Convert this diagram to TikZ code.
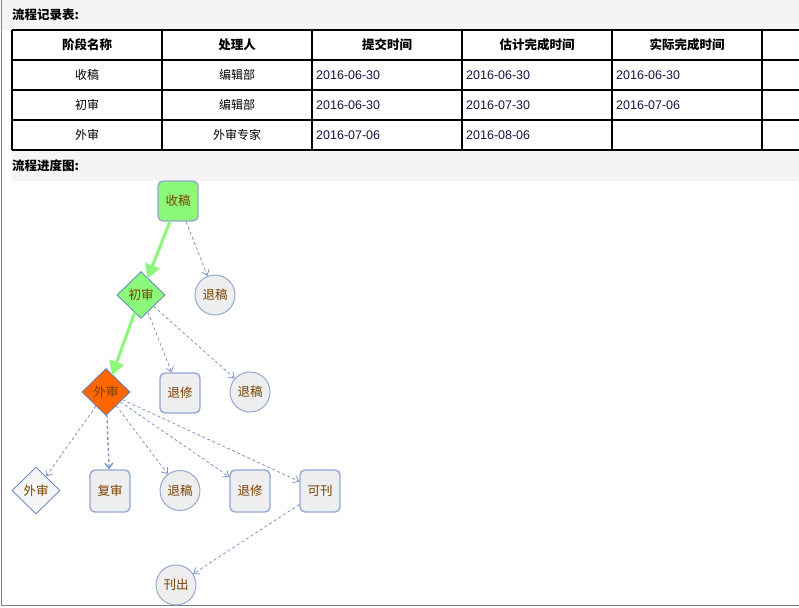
\documentclass[tikz,border=0pt]{standalone}
\usepackage{fontspec}
\setmainfont{Liberation Sans}
\newfontfamily\cjk{Noto Sans CJK SC}
\usetikzlibrary{shapes.geometric,arrows.meta}
\definecolor{bggray}{HTML}{F4F4F4}
\definecolor{framegray}{HTML}{808080}
\definecolor{datecol}{HTML}{1E1040}
\definecolor{nodetext}{HTML}{7A4000}
\definecolor{nodeborder}{HTML}{94A8D4}
\definecolor{diaborder}{HTML}{5A78C0}
\definecolor{nodefill}{HTML}{EEEEEE}
\definecolor{donegreen}{HTML}{8CF87A}
\definecolor{curorange}{HTML}{FF6600}
\definecolor{edgeblue}{HTML}{7E95C8}
\tikzset{
  ttl/.style={anchor=west, inner sep=0pt, font=\cjk\bfseries\fontsize{12.5}{14}\selectfont},
  hdr/.style={inner sep=0pt, font=\cjk\bfseries\fontsize{12.5}{14}\selectfont},
  cell/.style={inner sep=0pt, font=\cjk\fontsize{12}{14}\selectfont},
  datecell/.style={anchor=west, inner sep=0pt, text=datecol, font=\fontsize{12.5}{14}\selectfont},
  gline/.style={black, line width=1.3pt},
  ntext/.style={text=nodetext, font=\cjk\fontsize{12.5}{14}\selectfont, inner sep=0pt},
  boxnode/.style={ntext, draw=nodeborder, line width=1.4pt, fill=nodefill, rounded corners=5pt, minimum width=40pt, minimum height=42pt},
  circnode/.style={ntext, circle, draw=nodeborder, line width=1pt, fill=nodefill, minimum size=40pt},
  dianode/.style={ntext, diamond, draw=diaborder, line width=0.7pt, fill=white, minimum width=48pt, minimum height=47pt},
  doneedge/.style={donegreen, line width=3pt, -{Triangle[length=14pt,width=15pt]}, shorten >=-1pt},
  optedge/.style={edgeblue, line width=0.8pt, dash pattern=on 3pt off 2.5pt, -{Straight Barb[length=5pt,width=8pt]}},
}
\begin{document}
\begin{tikzpicture}[x=1pt,y=-1pt]
\useasboundingbox (0,0) rectangle (799,607);
\fill[white] (0,0) rectangle (799,607);
% backgrounds
\fill[bggray] (2,0) rectangle (799,30);
\fill[bggray] (12,150) rectangle (799,181);
% frame
\draw[framegray, line width=1.8pt] (1.5,0) -- (1.5,605.5) -- (799,605.5);
% titles
\node[ttl] (t1) at (12,15) {流程记录表:};
\node[ttl] (t2) at (12,166) {流程进度图:};
% table grid
\foreach \yy in {30,60,90,120,150} \draw[gline] (12,\yy) -- (799,\yy);
\foreach \xx in {12,162,312,462,612,762} \draw[gline] (\xx,30) -- (\xx,150);
% header
\node[hdr] (h1) at (87,45) {阶段名称};
\node[hdr] (h2) at (237,45) {处理人};
\node[hdr] (h3) at (387,45) {提交时间};
\node[hdr] (h4) at (537,45) {估计完成时间};
\node[hdr] (h5) at (687,45) {实际完成时间};
% rows
\node[cell] (r1a) at (87,75) {收稿};
\node[cell] (r1b) at (237,75) {编辑部};
\node[datecell] (r1c) at (316,75) {2016-06-30};
\node[datecell] (r1d) at (466,75) {2016-06-30};
\node[datecell] (r1e) at (616,75) {2016-06-30};
\node[cell] (r2a) at (87,105) {初审};
\node[cell] (r2b) at (237,105) {编辑部};
\node[datecell] (r2c) at (316,105) {2016-06-30};
\node[datecell] (r2d) at (466,105) {2016-07-30};
\node[datecell] (r2e) at (616,105) {2016-07-06};
\node[cell] (r3a) at (87,135) {外审};
\node[cell] (r3b) at (237,135) {外审专家};
\node[datecell] (r3c) at (316,135) {2016-07-06};
\node[datecell] (r3d) at (466,135) {2016-08-06};
% flow nodes
\node[boxnode, fill=donegreen, minimum height=40pt] (shougao) at (178,201) {收稿};
\node[dianode, fill=donegreen] (chushen) at (141,295) {初审};
\node[circnode] (tuigao1) at (215,295) {退稿};
\node[dianode, fill=curorange] (waishen) at (106,392) {外审};
\node[boxnode, minimum height=40pt] (tuixiu1) at (180,393) {退修};
\node[circnode] (tuigao2) at (250,392) {退稿};
\node[dianode, fill=nodefill!50] (waishen2) at (36,490.5) {外审};
\node[boxnode] (fushen) at (110,491) {复审};
\node[circnode] (tuigao3) at (180,490.5) {退稿};
\node[boxnode] (tuixiu2) at (250,491) {退修};
\node[boxnode] (kekan) at (320,491) {可刊};
\node[circnode] (kanchu) at (176,585) {刊出};
% edges
\draw[doneedge] (shougao) -- (chushen);
\draw[doneedge] (chushen) -- (waishen);
\draw[optedge] (shougao) -- (tuigao1);
\draw[optedge] (chushen) -- (tuixiu1);
\draw[optedge] (chushen) -- (tuigao2);
\draw[optedge] (waishen) -- (waishen2);
\draw[optedge, line width=1.4pt] (waishen) -- (fushen);
\draw[optedge] (waishen) -- (tuigao3);
\draw[optedge] (waishen) -- (tuixiu2);
\draw[optedge] (waishen) -- (kekan);
\draw[optedge] (kekan) -- (kanchu);
\end{tikzpicture}
\end{document}
